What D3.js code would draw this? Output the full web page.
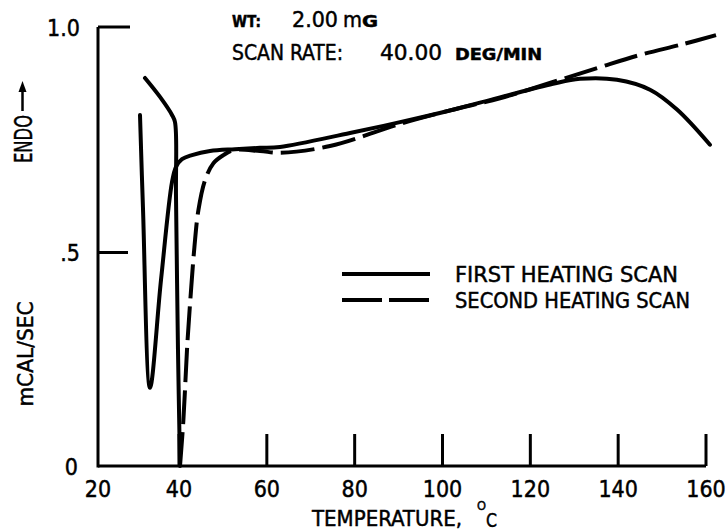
<!DOCTYPE html>
<html>
<head>
<meta charset="utf-8">
<script src="https://cdn.jsdelivr.net/npm/d3@7"></script>
<style>
  html, body { margin: 0; padding: 0; background: #fff; }
  svg { display: block; }
  text { font-family: 'Liberation Sans Narrow', 'DejaVu Sans Condensed', 'Roboto Condensed', 'Liberation Sans', sans-serif; fill: #000; stroke: #000; stroke-width: 0.45; }
</style>
</head>
<body>
<svg id="chart" width="728" height="532"></svg>
<script>
// ---- data ----
const xTickValues = [20, 40, 60, 80, 100, 120, 140, 160];
const xTickLabels = ["20", "40", "60", "80", "100", "120", "140", "160"];
const yTickValues = [0, 0.5, 1.0];
const yTickLabels = ["0", ".5", "1.0"];

// first heating scan (solid)
const firstT = [30.37, 31.1, 32.84, 35.56, 38.27, 39.26, 40.68, 42.96, 47.06, 52.75, 58.44, 63.0, 78.94, 90.32, 101.71, 113.09, 125.16, 131.31, 139.73, 147.25, 153.4, 160.9];
const firstQ = [0.805, 0.600, 0.183, 0.436, 0.656, 0.690, 0.707, 0.716, 0.725, 0.729, 0.732, 0.734, 0.765, 0.789, 0.815, 0.844, 0.874, 0.885, 0.883, 0.861, 0.817, 0.739];

// second heating scan: initial transient (drawn solid)
const secondStartT = [31.6, 35.31, 38.27, 39.01, 39.26, 39.75, 40.23];
const secondStartQ = [0.887, 0.845, 0.805, 0.789, 0.623, 0.272, 0.0];

// second heating scan (dashed)
const secondT = [40.23, 41.0, 41.91, 42.69, 43.51, 44.42, 45.95, 47.84, 50.12, 52.4, 58.44, 63.0, 74.38, 90.32, 101.71, 113.09, 125.16, 135.86, 144.97, 154.76, 162.28];
const secondQ = [0.0, 0.108, 0.288, 0.405, 0.512, 0.594, 0.661, 0.698, 0.716, 0.727, 0.725, 0.721, 0.736, 0.785, 0.815, 0.842, 0.878, 0.911, 0.938, 0.962, 0.982];

const legendLabels = ["FIRST HEATING SCAN", "SECOND HEATING SCAN"];

// ---- scales ----
const x = d3.scaleLinear().domain([20, 40, 160]).range([98, 179, 706]);
const y = d3.scaleLinear().domain([0, 0.5, 1]).range([466, 252.5, 27]);

const svg = d3.select("#chart");
const ink = "#000";

// ---- axes ----
svg.append("line").attr("x1", x(20)).attr("x2", x(160)).attr("y1", y(0)).attr("y2", y(0))
  .attr("stroke", ink).attr("stroke-width", 3);
svg.append("line").attr("x1", x(20)).attr("x2", x(20)).attr("y1", y(0) + 1.5).attr("y2", y(1))
  .attr("stroke", ink).attr("stroke-width", 3);

svg.selectAll(".xtick").data(xTickValues.filter(d => d > 20)).enter().append("line")
  .attr("x1", d => x(d)).attr("x2", d => x(d)).attr("y1", y(0)).attr("y2", y(0) - 32)
  .attr("stroke", ink).attr("stroke-width", 3);
svg.selectAll(".xlab").data(xTickValues).enter().append("text")
  .attr("x", d => x(d)).attr("y", 497).attr("text-anchor", "middle")
  .attr("font-size", 23).text((d, i) => xTickLabels[i]);

svg.selectAll(".ytick").data(yTickValues.filter(d => d > 0)).enter().append("line")
  .attr("x1", x(20)).attr("x2", d => x(20) + (d === 1 ? 32 : 30))
  .attr("y1", d => y(d)).attr("y2", d => y(d))
  .attr("stroke", ink).attr("stroke-width", 3);
svg.selectAll(".ylab").data(yTickValues).enter().append("text")
  .attr("x", d => d === 0 ? 78 : 80).attr("y", d => y(d) + 8.5).attr("text-anchor", "end")
  .attr("font-size", 23).text((d, i) => yTickLabels[i]);

// ---- curves ----
const line = d3.line().x(d => x(d[0])).y(d => y(d[1])).curve(d3.curveCatmullRom.alpha(0.5));
const firstData = firstT.map((t, i) => [t, firstQ[i]]);
const secondStartData = secondStartT.map((t, i) => [t, secondStartQ[i]]);
const secondData = secondT.map((t, i) => [t, secondQ[i]]);

svg.append("path").attr("d", line(secondData)).attr("fill", "none").attr("stroke", ink)
  .attr("stroke-width", 4).attr("stroke-dasharray", "34,8");
svg.append("path").attr("d", line(secondStartData)).attr("fill", "none").attr("stroke", ink)
  .attr("stroke-width", 4).attr("stroke-linecap", "round").attr("stroke-linejoin", "round");
svg.append("path").attr("d", line(firstData)).attr("fill", "none").attr("stroke", ink)
  .attr("stroke-width", 4).attr("stroke-linecap", "round").attr("stroke-linejoin", "round");

// ---- legend ----
svg.append("line").attr("x1", 342).attr("x2", 430).attr("y1", 274).attr("y2", 274)
  .attr("stroke", ink).attr("stroke-width", 4);
svg.append("line").attr("x1", 342).attr("x2", 430).attr("y1", 300).attr("y2", 300)
  .attr("stroke", ink).attr("stroke-width", 4).attr("stroke-dasharray", "40,7");
svg.append("text").attr("x", 455).attr("y", 282).attr("font-size", 21)
  .attr("textLength", 223).attr("lengthAdjust", "spacingAndGlyphs").text(legendLabels[0]);
svg.append("text").attr("x", 455).attr("y", 308).attr("font-size", 21)
  .attr("textLength", 235).attr("lengthAdjust", "spacingAndGlyphs").text(legendLabels[1]);

// ---- annotations ----
function put(txt, xx, yy, size, len, weight) {
  const t = svg.append("text").attr("x", xx).attr("y", yy).attr("font-size", size).text(txt);
  if (len) t.attr("textLength", len).attr("lengthAdjust", "spacingAndGlyphs");
  if (weight) t.attr("font-weight", weight);
  return t;
}
put("WT:", 232, 27, 15, 29, "bold");
put("2.00", 292, 27, 22, 46);
put("m", 343, 27, 22, 19);
put("G", 362, 27, 15, 16, "bold");
put("SCAN RATE:", 232, 60, 22, 111);
put("40.00", 380, 60, 22, 62);
put("DEG/MIN", 455, 60, 15.5, 87, "bold");

put("TEMPERATURE,", 312, 526, 22, 150);
put("O", 477, 510, 13, 9);
put("C", 486, 527, 19, 11);

svg.append("text").attr("transform", "translate(31.5,163) rotate(-90)")
  .attr("font-size", 24).attr("textLength", 48).attr("lengthAdjust", "spacingAndGlyphs").text("ENDO");
svg.append("line").attr("x1", 22.5).attr("x2", 22.5).attr("y1", 111).attr("y2", 90)
  .attr("stroke", ink).attr("stroke-width", 2.5);
svg.append("path").attr("d", "M22.5,81 L18.5,92 L26.5,92 Z").attr("fill", ink);
svg.append("text").attr("transform", "translate(32.5,406.5) rotate(-90)")
  .attr("font-size", 22).attr("textLength", 105).attr("lengthAdjust", "spacingAndGlyphs").text("mCAL/SEC");
</script>
</body>
</html>
